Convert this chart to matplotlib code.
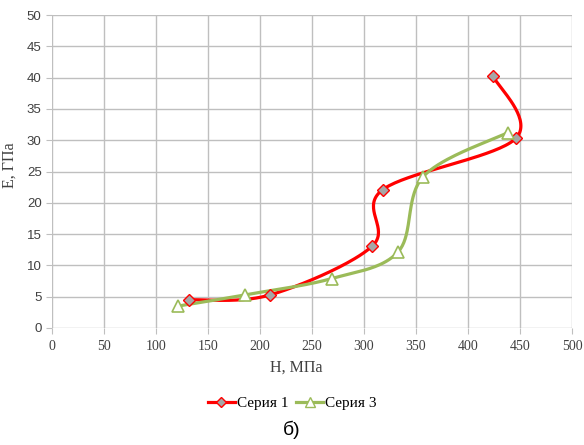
import matplotlib
matplotlib.use('Agg')
import matplotlib.pyplot as plt
import numpy as np
from matplotlib.lines import Line2D

# data
h1 = [132, 210, 308, 318, 446, 424]
e1 = [4.5, 5.3, 13.1, 22.1, 30.3, 40.3]
h3 = [121, 186, 269, 333, 357, 438]
e3 = [3.5, 5.3, 7.9, 12.2, 24.2, 31.2]
xticks = list(range(0, 501, 50))
yticks = list(range(0, 51, 5))

sx, sy = 520 / 500, 313 / 50  # pixel scale, so smoothing looks like Excel's


def smooth(xs, ys, n=40):
    p = np.column_stack([np.array(xs) * sx, np.array(ys) * sy])
    pts = np.vstack([p[0], p, p[-1]])
    out = []
    for i in range(1, len(pts) - 2):
        p0, p1, p2, p3 = pts[i - 1], pts[i], pts[i + 1], pts[i + 2]
        c1 = p1 + (p2 - p0) / 6
        c2 = p2 - (p3 - p1) / 6
        t = np.linspace(0, 1, n)[:, None]
        seg = (1 - t) ** 3 * p1 + 3 * (1 - t) ** 2 * t * c1 + 3 * (1 - t) * t ** 2 * c2 + t ** 3 * p2
        out.append(seg)
    c = np.vstack(out)
    return c[:, 0] / sx, c[:, 1] / sy


fig = plt.figure(figsize=(5.84, 4.45), dpi=100)
ax = fig.add_axes([52 / 584, 117 / 445, 520 / 584, 313 / 445])

red = '#ff0000'
green = '#9bbb59'

x, y = smooth(h1, e1)
ax.plot(x, y, color=red, lw=2.3, zorder=3)
ax.plot(h1, e1, ls='none', marker='D', ms=6, mfc='#a6a6a6', mec=red, mew=1, zorder=4)
x, y = smooth(h3, e3)
ax.plot(x, y, color=green, lw=2.3, zorder=3)
ax.plot(h3, e3, ls='none', marker='^', ms=8, mfc='white', mec=green, mew=1.2, zorder=4)

ax.set_xlim(0, 500)
ax.set_ylim(0, 50)
ax.set_xticks(xticks)
ax.set_yticks(yticks)
ax.grid(True, color='#bfbfbf', lw=1)
ax.set_axisbelow(True)
for s in ax.spines.values():
    s.set_visible(False)
ax.tick_params(length=4, color='#bfbfbf', labelsize=10, labelcolor='#404040')
ax.tick_params(axis='x', pad=5)
for lab in ax.get_xticklabels():
    lab.set_family('Liberation Serif')
for lab in ax.get_yticklabels():
    lab.set_family('Liberation Sans')
    lab.set_fontsize(9.5)

ax.set_xlabel('H, МПа', family='Liberation Serif', fontsize=11.5, color='#404040')
ax.set_ylabel('E, ГПа', family='Liberation Serif', fontsize=11.5, color='#404040')
ax.xaxis.set_label_coords(0.469, -0.1)
ax.yaxis.set_label_coords(-0.067, 0.52)

handles = [
    Line2D([], [], color=red, lw=2.3, marker='D', ms=5, mfc='#a6a6a6', mec=red),
    Line2D([], [], color=green, lw=2.3, marker='^', ms=7, mfc='white', mec=green),
]
fig.legend(handles, ['Серия 1', 'Серия 3'], loc='center', bbox_to_anchor=(0.5, 42 / 445),
           ncol=2, frameon=False, prop={'family': 'Liberation Serif', 'size': 11},
           handlelength=1.8, handletextpad=0.1, columnspacing=0.5)

fig.text(0.5, 15 / 445, 'б)', ha='center', va='center', fontsize=14, family='Liberation Sans')

fig.savefig('out.png', dpi=100)
